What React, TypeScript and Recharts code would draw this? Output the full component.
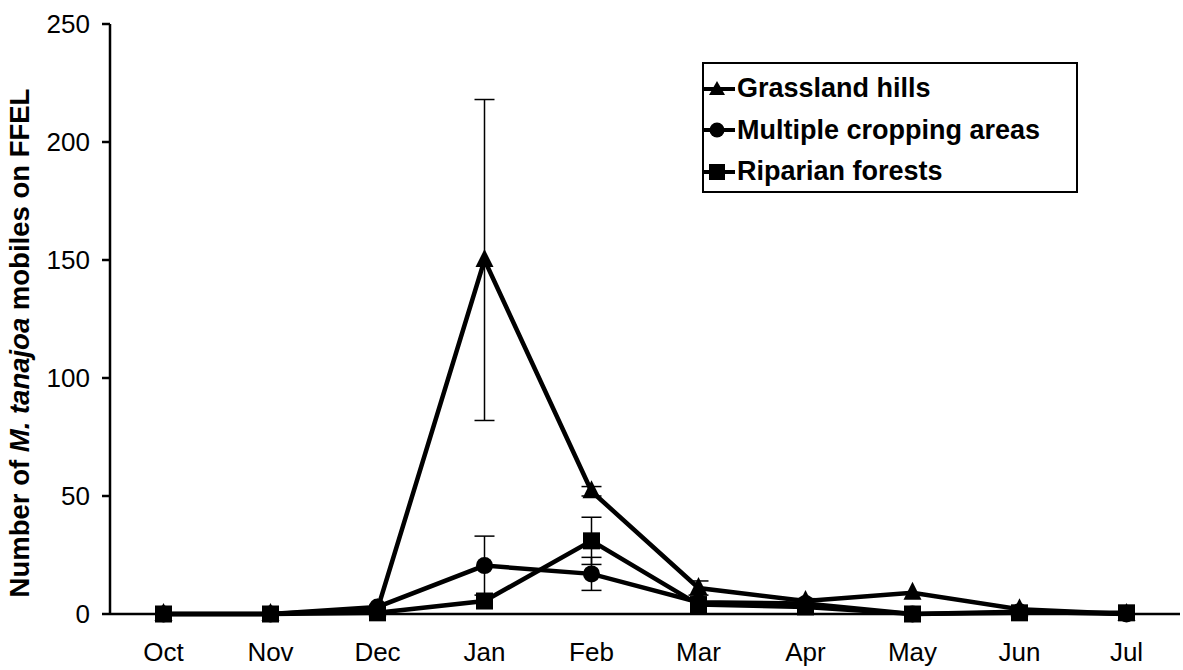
import { LineChart, Line, XAxis, YAxis, ErrorBar } from 'recharts';

const months = ['Oct', 'Nov', 'Dec', 'Jan', 'Feb', 'Mar', 'Apr', 'May', 'Jun', 'Jul'];
const grassland = [0, 0, 2, 150, 52, 11, 5.5, 9, 2, 0];
const grasslandErr = [0, 0, 0, 68, 2, 3, 1, 0, 0, 0];
const multiple = [0, 0, 3, 20.5, 17, 5, 4.5, 0, 1, 0];
const multipleErr = [0, 0, 0, 12.5, 7, 0, 0, 0, 0, 0];
const riparian = [0, 0, 0.5, 5.5, 31, 4, 3, 0, 0.5, 0.5];
const riparianErr = [0, 0, 0, 0, 10, 0, 0, 0, 0, 0];
const yTicks = [0, 50, 100, 150, 200, 250];

const data = months.map((m, i) => ({
  x: i + 0.5,
  month: m,
  grassland: grassland[i],
  gErr: grasslandErr[i],
  multiple: multiple[i],
  mErr: multipleErr[i],
  riparian: riparian[i],
  rErr: riparianErr[i],
}));

const FONT = 'Liberation Sans, Arial, sans-serif';

const Triangle = (props: any) => {
  const { cx, cy, key } = props;
  if (cx == null || cy == null) return null;
  return <path key={key} d={`M${cx},${cy - 11} L${cx + 9},${cy + 7} L${cx - 9},${cy + 7} Z`} fill="#000" />;
};
const Circle = (props: any) => {
  const { cx, cy, key } = props;
  if (cx == null || cy == null) return null;
  return <circle key={key} cx={cx} cy={cy} r={8.5} fill="#000" />;
};
const Square = (props: any) => {
  const { cx, cy, key } = props;
  if (cx == null || cy == null) return null;
  return <rect key={key} x={cx - 8.5} y={cy - 8.5} width={17} height={17} fill="#000" />;
};

const legendItems = [
  { name: 'Grassland hills', shape: 'tri' },
  { name: 'Multiple cropping areas', shape: 'circ' },
  { name: 'Riparian forests', shape: 'sq' },
];

// legend drawn as an overlay so it doesn't steal plot space
const LegendBox = () => (
  <div
    style={{
      position: 'absolute',
      left: 702,
      top: 62,
      border: '2.5px solid #000',
      width: 376,
      height: 131,
      boxSizing: 'border-box',
      padding: '4px 0 0 0',
      background: '#fff',
    }}
  >
    {legendItems.map((it) => (
      <div key={it.name} style={{ display: 'flex', alignItems: 'center', height: 41.5 }}>
        <svg width={31} height={22}>
          <line x1={0} y1={11} x2={31} y2={11} stroke="#000" strokeWidth={4} />
          {it.shape === 'tri' && <path d="M13,3 L21,17 L5,17 Z" fill="#000" />}
          {it.shape === 'circ' && <circle cx={13} cy={11} r={7.5} fill="#000" />}
          {it.shape === 'sq' && <rect x={5} y={3} width={16} height={16} fill="#000" />}
        </svg>
        <span
          style={{
            fontFamily: FONT,
            fontWeight: 'bold',
            fontSize: 27,
            marginLeft: 2,
            color: '#000',
            whiteSpace: 'nowrap',
          }}
        >
          {it.name}
        </span>
      </div>
    ))}
  </div>
);

const YLabel = () => (
  <text
    x={0}
    y={0}
    transform="translate(29, 343) rotate(-90)"
    textAnchor="middle"
    style={{ fontFamily: FONT, fontWeight: 'bold', fontSize: 27.5, fill: '#000' }}
  >
    Number of <tspan fontStyle="italic">M. tanajoa</tspan> mobiles on FFEL
  </text>
);

export default function App() {
  return (
    <div style={{ position: 'absolute', left: 0, top: 0, width: 1183, height: 670, background: '#fff' }}>
      <LineChart
        width={1183}
        height={670}
        data={data}
        margin={{ top: 24, right: 3, left: 40, bottom: 16 }}
      >
        <XAxis
          dataKey="x"
          type="number"
          xAxisId="lab"
          domain={[0, 10]}
          ticks={data.map((d) => d.x)}
          tickFormatter={(v: number) => months[Math.floor(v)]}
          tickLine={false}
          axisLine={{ stroke: '#000', strokeWidth: 2.5 }}
          tick={{ fontFamily: FONT, fontSize: 26, fill: '#000' }}
          tickMargin={23}
          height={40}
          interval={0}
        />
        <XAxis
          dataKey="x"
          type="number"
          xAxisId="edge"
          domain={[0, 10]}
          ticks={[0, 1, 2, 3, 4, 5, 6, 7, 8, 9, 10]}
          tick={false}
          tickSize={9}
          tickLine={{ stroke: '#000', strokeWidth: 2.5 }}
          axisLine={false}
          height={0}
        />
        <YAxis
          domain={[0, 250]}
          ticks={yTicks}
          width={70}
          tickSize={8}
          tickMargin={12}
          tickLine={{ stroke: '#000', strokeWidth: 2.5 }}
          axisLine={{ stroke: '#000', strokeWidth: 2.5 }}
          tick={{ fontFamily: FONT, fontSize: 26, fill: '#000' }}
          label={<YLabel />}
        />
        <Line
          xAxisId="lab"
          dataKey="grassland"
          stroke="#000"
          strokeWidth={4.5}
          dot={<Triangle />}
          activeDot={false}
          isAnimationActive={false}
        >
          <ErrorBar dataKey="gErr" direction="y" width={10} stroke="#000" strokeWidth={1.5} />
        </Line>
        <Line
          xAxisId="lab"
          dataKey="multiple"
          stroke="#000"
          strokeWidth={4.5}
          dot={<Circle />}
          activeDot={false}
          isAnimationActive={false}
        >
          <ErrorBar dataKey="mErr" direction="y" width={10} stroke="#000" strokeWidth={1.5} />
        </Line>
        <Line
          xAxisId="lab"
          dataKey="riparian"
          stroke="#000"
          strokeWidth={4.5}
          dot={<Square />}
          activeDot={false}
          isAnimationActive={false}
        >
          <ErrorBar dataKey="rErr" direction="y" width={10} stroke="#000" strokeWidth={1.5} />
        </Line>
      </LineChart>
      <LegendBox />
    </div>
  );
}
